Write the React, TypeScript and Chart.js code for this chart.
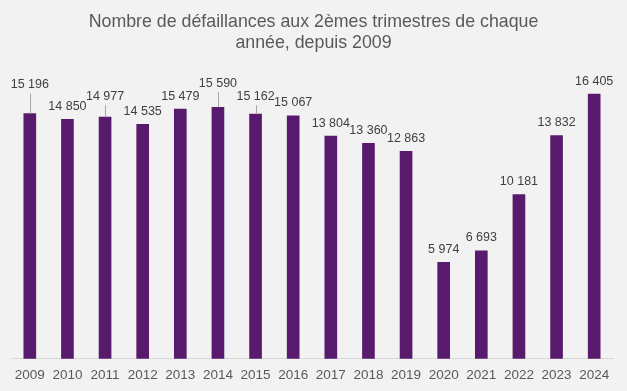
import React, { useEffect, useRef } from "react";
import { Chart, registerables } from "chart.js";

Chart.register(...registerables);

const years = ["2009", "2010", "2011", "2012", "2013", "2014", "2015", "2016", "2017", "2018", "2019", "2020", "2021", "2022", "2023", "2024"];
const failures = [15196, 14850, 14977, 14535, 15479, 15590, 15162, 15067, 13804, 13360, 12863, 5974, 6693, 10181, 13832, 16405];
const titleLines = ["Nombre de défaillances aux 2èmes trimestres de chaque", "année, depuis 2009"];

const FONT = "'Liberation Sans', Arial, sans-serif";
const BAR = "#571a6d";

function fmt(v: number) {
  return String(v).replace(/\B(?=(\d{3})+(?!\d))/g, " ");
}

const titlePlugin = {
  id: "customTitle",
  afterDraw(chart: any) {
    const ctx = chart.ctx;
    ctx.save();
    ctx.fillStyle = "#595959";
    ctx.font = `17.8px ${FONT}`;
    ctx.textAlign = "center";
    ctx.textBaseline = "middle";
    titleLines.forEach((l, i) => ctx.fillText(l, chart.width / 2, 22 + i * 21));
    ctx.restore();
  },
};

// extra lift (px) for labels moved away with a leader line
const lifted: Record<number, number> = { 0: 29, 2: 21, 5: 24, 6: 18 };

const labelPlugin = {
  id: "barLabels",
  afterDatasetsDraw(chart: any) {
    const ctx = chart.ctx;
    const meta = chart.getDatasetMeta(0);
    ctx.save();
    ctx.font = `12.5px ${FONT}`;
    ctx.textAlign = "center";
    ctx.textBaseline = "middle";
    meta.data.forEach((bar: any, i: number) => {
      const v = chart.data.datasets[0].data[i];
      const off = lifted[i] ?? 13;
      const y = bar.y - off;
      if (lifted[i]) {
        ctx.strokeStyle = "#a6a6a6";
        ctx.lineWidth = 1;
        ctx.beginPath();
        ctx.moveTo(Math.round(bar.x) + 0.5, y + 9);
        ctx.lineTo(Math.round(bar.x) + 0.5, bar.y);
        ctx.stroke();
      }
      ctx.fillStyle = "#404040";
      ctx.fillText(fmt(v), bar.x, y);
    });
    ctx.restore();
  },
};

export default function App() {
  const ref = useRef<HTMLCanvasElement>(null);
  useEffect(() => {
    document.body.style.margin = "0";
    document.body.style.background = "#f2f2f2";
    const chart = new Chart(ref.current!, {
      type: "bar",
      data: {
        labels: years,
        datasets: [
          {
            data: failures,
            backgroundColor: BAR,
            barThickness: 12,
          },
        ],
      },
      options: {
        animation: false,
        responsive: false,
        maintainAspectRatio: false,
        layout: { padding: { top: 70, left: 11, right: 14, bottom: 0 } },
        plugins: { legend: { display: false }, title: { display: false }, tooltip: { enabled: false } },
        scales: {
          x: {
            grid: { display: false, drawTicks: false },
            border: { display: true, color: "#d9d9d9", width: 1 },
            ticks: { color: "#595959", font: { family: FONT, size: 13.5 }, padding: 8, maxRotation: 0, autoSkip: false },
          },
          y: { display: false, min: 0, max: 17900 },
        },
      },
      plugins: [titlePlugin, labelPlugin],
    });
    return () => chart.destroy();
  }, []);
  return (
    <div style={{ width: 627, height: 391, background: "#f2f2f2" }}>
      <canvas ref={ref} width={627} height={391} />
    </div>
  );
}
